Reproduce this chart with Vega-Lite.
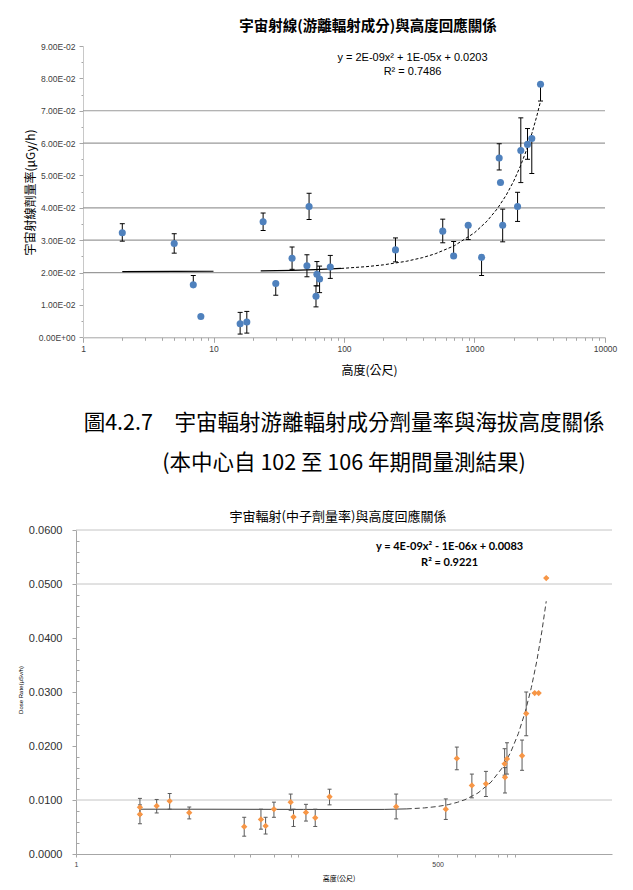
{
  "$schema": "https://vega.github.io/schema/vega-lite/v6.json",
  "background": "white",
  "padding": {"left": 17, "top": 18, "right": 10, "bottom": 5},
  "config": {
    "view": {"stroke": null},
    "axis": {"labelFlush": false, "labelOverlap": false, "labelBound": false}
  },
  "datasets": {
    "ionGrid": [{"g": 0.02}, {"g": 0.03}, {"g": 0.04}, {"g": 0.06}, {"g": 0.07}],
    "ion": [
      {"x": 2, "y": 0.0323, "lo": 0.0297, "hi": 0.0351},
      {"x": 5, "y": 0.029, "lo": 0.026, "hi": 0.032},
      {"x": 7, "y": 0.0162, "lo": 0.0162, "hi": 0.0191},
      {"x": 8, "y": 0.0064, "lo": 0.0064, "hi": 0.0064},
      {"x": 16, "y": 0.0042, "lo": 0.001, "hi": 0.0077},
      {"x": 18, "y": 0.0047, "lo": 0.0013, "hi": 0.008},
      {"x": 24, "y": 0.0357, "lo": 0.033, "hi": 0.0384},
      {"x": 30, "y": 0.0166, "lo": 0.013, "hi": 0.0166},
      {"x": 40, "y": 0.0244, "lo": 0.021, "hi": 0.0279},
      {"x": 52, "y": 0.0221, "lo": 0.0187, "hi": 0.0255},
      {"x": 54, "y": 0.0404, "lo": 0.0364, "hi": 0.0445},
      {"x": 61, "y": 0.0127, "lo": 0.0094, "hi": 0.0159},
      {"x": 62, "y": 0.0195, "lo": 0.0159, "hi": 0.0234},
      {"x": 65, "y": 0.018, "lo": 0.0138, "hi": 0.022},
      {"x": 78.5, "y": 0.0217, "lo": 0.0182, "hi": 0.0253},
      {"x": 248, "y": 0.027, "lo": 0.0233, "hi": 0.0307},
      {"x": 571, "y": 0.0328, "lo": 0.0292, "hi": 0.0365},
      {"x": 692, "y": 0.0251, "lo": 0.0251, "hi": 0.0296},
      {"x": 895, "y": 0.0346, "lo": 0.0302, "hi": 0.0346},
      {"x": 1133, "y": 0.0247, "lo": 0.0191, "hi": 0.0247},
      {"x": 1546, "y": 0.0554, "lo": 0.0517, "hi": 0.0598},
      {"x": 1582, "y": 0.0478, "lo": 0.0478, "hi": 0.0478},
      {"x": 1644, "y": 0.0346, "lo": 0.0295, "hi": 0.0396},
      {"x": 2138, "y": 0.0404, "lo": 0.0358, "hi": 0.0448},
      {"x": 2264, "y": 0.0577, "lo": 0.0478, "hi": 0.0678},
      {"x": 2548, "y": 0.0596, "lo": 0.055, "hi": 0.0645},
      {"x": 2748, "y": 0.0614, "lo": 0.0506, "hi": 0.0614},
      {"x": 3206, "y": 0.0782, "lo": 0.073, "hi": 0.0782}
    ],
    "ionFit": [
      {"x": 2, "y": 0.02032}, {"x": 5, "y": 0.02035}, {"x": 10, "y": 0.0204},
      {"x": 23, "y": 0.020531}, {"x": 40, "y": 0.020703}, {"x": 60, "y": 0.020907},
      {"x": 95, "y": 0.021268}, {"x": 150, "y": 0.021845}, {"x": 200, "y": 0.02238},
      {"x": 300, "y": 0.02348}, {"x": 400, "y": 0.02462}, {"x": 500, "y": 0.0258},
      {"x": 700, "y": 0.02828}, {"x": 1000, "y": 0.0323}, {"x": 1250, "y": 0.035925},
      {"x": 1500, "y": 0.0398}, {"x": 1750, "y": 0.043925}, {"x": 2000, "y": 0.0483},
      {"x": 2250, "y": 0.052925}, {"x": 2500, "y": 0.0578}, {"x": 2750, "y": 0.062925},
      {"x": 3000, "y": 0.0683}, {"x": 3206, "y": 0.072917}
    ],
    "ionEq": [
      {"x": 335, "y": 0.0863, "t": "y = 2E-09x² + 1E-05x + 0.0203"},
      {"x": 335, "y": 0.0821, "t": "R² = 0.7486"}
    ],
    "neuGrid": [{"g": 0.01}, {"g": 0.05}, {"g": 0.06}],
    "neu": [
      {"x": 3, "y": 0.00864, "lo": 0.0072, "hi": 0.0103},
      {"x": 3, "y": 0.00735, "lo": 0.0056, "hi": 0.0091},
      {"x": 4, "y": 0.0089, "lo": 0.0076, "hi": 0.0101},
      {"x": 5, "y": 0.0098, "lo": 0.0083, "hi": 0.0112},
      {"x": 7, "y": 0.00765, "lo": 0.0065, "hi": 0.0087},
      {"x": 18, "y": 0.00506, "lo": 0.0033, "hi": 0.0068},
      {"x": 24, "y": 0.0064, "lo": 0.0046, "hi": 0.0083},
      {"x": 26, "y": 0.0052, "lo": 0.0037, "hi": 0.0068},
      {"x": 30, "y": 0.0083, "lo": 0.0068, "hi": 0.0096},
      {"x": 40, "y": 0.0096, "lo": 0.0081, "hi": 0.0111},
      {"x": 42, "y": 0.00685, "lo": 0.0051, "hi": 0.0083},
      {"x": 52, "y": 0.0077, "lo": 0.0061, "hi": 0.0092},
      {"x": 61, "y": 0.0067, "lo": 0.0051, "hi": 0.0083},
      {"x": 78, "y": 0.0106, "lo": 0.0091, "hi": 0.012},
      {"x": 245, "y": 0.00877, "lo": 0.0065, "hi": 0.0111},
      {"x": 575, "y": 0.0083, "lo": 0.0064, "hi": 0.0102},
      {"x": 695, "y": 0.0177, "lo": 0.0156, "hi": 0.0198},
      {"x": 900, "y": 0.0127, "lo": 0.0104, "hi": 0.0148},
      {"x": 1146, "y": 0.013, "lo": 0.01065, "hi": 0.0153},
      {"x": 1580, "y": 0.0167, "lo": 0.0146, "hi": 0.0195},
      {"x": 1590, "y": 0.0142, "lo": 0.0113, "hi": 0.016},
      {"x": 1645, "y": 0.0176, "lo": 0.0148, "hi": 0.0206},
      {"x": 2132, "y": 0.0182, "lo": 0.0155, "hi": 0.0211},
      {"x": 2290, "y": 0.026, "lo": 0.0219, "hi": 0.03},
      {"x": 2649, "y": 0.0298, "lo": 0.0298, "hi": 0.0298},
      {"x": 2836, "y": 0.0298, "lo": 0.0298, "hi": 0.0298},
      {"x": 3230, "y": 0.0511, "lo": 0.0511, "hi": 0.0511}
    ],
    "neuFit": [
      {"x": 3, "y": 0.008297}, {"x": 10, "y": 0.00829}, {"x": 50, "y": 0.00826},
      {"x": 100, "y": 0.00824}, {"x": 200, "y": 0.00826}, {"x": 294, "y": 0.008352},
      {"x": 400, "y": 0.00854}, {"x": 500, "y": 0.0088}, {"x": 600, "y": 0.00914},
      {"x": 700, "y": 0.00956}, {"x": 800, "y": 0.01006}, {"x": 1000, "y": 0.0113},
      {"x": 1250, "y": 0.0133}, {"x": 1500, "y": 0.0158}, {"x": 1750, "y": 0.0188},
      {"x": 2000, "y": 0.0223}, {"x": 2250, "y": 0.0263}, {"x": 2500, "y": 0.0308},
      {"x": 2750, "y": 0.0358}, {"x": 3000, "y": 0.0413}, {"x": 3230, "y": 0.0468}
    ],
    "neuEq": [
      {"x": 614, "y": 0.05676, "t": "y = 4E-09x² - 1E-06x + 0.0083"},
      {"x": 614, "y": 0.05398, "t": "R² = 0.9221"}
    ],
    "caption": [
      {"text": "圖4.2.7　宇宙輻射游離輻射成分劑量率與海拔高度關係\n(本中心自 102 至 106 年期間量測結果)"}
    ]
  },
  "vconcat": [
    {
      "width": 522,
      "height": 291.3,
      "title": {
        "text": "宇宙射線(游離輻射成分)與高度回應關係",
        "font": "Noto Sans CJK TC", "fontSize": 14.5, "fontWeight": "bold", "color": "#000",
        "anchor": "middle", "frame": "group", "dx": 24, "baseline": "bottom", "offset": -6
      },
      "layer": [
        {
          "data": {"name": "ionGrid"},
          "mark": {"type": "rule", "color": "#9a9a9a", "strokeWidth": 1.2},
          "encoding": {
            "y": {
              "field": "g", "type": "quantitative",
              "scale": {"domain": [0, 0.09], "nice": false, "zero": false},
              "axis": {
                "values": [0,0.005,0.01,0.015,0.02,0.025,0.03,0.035,0.04,0.045,0.05,0.055,0.06,0.065,0.07,0.075,0.08,0.085,0.09],
                "tickCount": 1000,
                "labelExpr": "abs(datum.value*100 - round(datum.value*100)) < 1e-6 ? replace(replace(format(datum.value, '.2e'), 'e-', 'E-0'), 'e+', 'E+0') : ''",
                "tickSize": {"condition": {"test": "abs(datum.value*100 - round(datum.value*100)) < 1e-6", "value": 4}, "value": 2},
                "grid": false, "labelOverlap": false,
                "domainColor": "#c8c8c8", "tickColor": "#a6a6a6",
                "labelFont": "Liberation Sans", "labelFontSize": 8.5, "labelColor": "#404040", "labelPadding": 4,
                "title": "宇宙射線劑量率(μGy/h)", "titleFont": "Noto Sans CJK TC", "titleFontSize": 12, "titleFontWeight": "normal",
                "titleColor": "#000", "titleX": -52.3, "titleY": 146, "titleAngle": 270, "titleBaseline": "middle", "titleAlign": "center"
              }
            }
          }
        },
        {
          "data": {"name": "ionFit"},
          "transform": [{"filter": "datum.x <= 10"}],
          "mark": {"type": "line", "color": "#000", "strokeWidth": 1.2},
          "encoding": {
            "x": {
              "field": "x", "type": "quantitative",
              "scale": {"type": "log", "domain": [1, 10000], "nice": false},
              "axis": {
                "values": [1,2,3,4,5,6,7,8,9,10,20,30,40,50,60,70,80,90,100,200,300,400,500,600,700,800,900,1000,2000,3000,4000,5000,6000,7000,8000,9000,10000],
                "tickCount": 1000,
                "labelExpr": "indexof([1,10,100,1000,10000], datum.value) >= 0 ? format(datum.value, 'd') : ''",
                "tickSize": {"condition": {"test": "indexof([1,10,100,1000,10000], datum.value) >= 0", "value": 5}, "value": 3},
                "grid": false, "labelOverlap": false,
                "domainColor": "#a6a6a6", "tickColor": "#a6a6a6",
                "labelFont": "Liberation Sans", "labelFontSize": 8.5, "labelColor": "#404040", "labelPadding": 2,
                "title": "高度(公尺)", "titleFont": "Noto Sans CJK TC", "titleFontSize": 12, "titleFontWeight": "normal",
                "titleColor": "#000", "titleX": 286, "titleY": 32.7, "titleBaseline": "middle", "titleAlign": "center"
              }
            },
            "y": {"field": "y", "type": "quantitative"}
          }
        },
        {
          "data": {"name": "ionFit"},
          "transform": [{"filter": "datum.x >= 23 && datum.x <= 95"}],
          "mark": {"type": "line", "color": "#000", "strokeWidth": 1.2},
          "encoding": {"x": {"field": "x", "type": "quantitative"}, "y": {"field": "y", "type": "quantitative"}}
        },
        {
          "data": {"name": "ionFit"},
          "transform": [{"filter": "datum.x >= 95"}],
          "mark": {"type": "line", "color": "#000", "strokeWidth": 1, "strokeDash": [3, 2]},
          "encoding": {"x": {"field": "x", "type": "quantitative"}, "y": {"field": "y", "type": "quantitative"}}
        },
        {
          "data": {"name": "ion"},
          "mark": {"type": "rule", "color": "#000", "strokeWidth": 1},
          "encoding": {
            "x": {"field": "x", "type": "quantitative"},
            "y": {"field": "lo", "type": "quantitative"},
            "y2": {"field": "hi"}
          }
        },
        {
          "data": {"name": "ion"},
          "mark": {"type": "tick", "orient": "horizontal", "size": 5, "thickness": 1, "color": "#000", "opacity": 1},
          "encoding": {"x": {"field": "x", "type": "quantitative"}, "y": {"field": "lo", "type": "quantitative"}}
        },
        {
          "data": {"name": "ion"},
          "mark": {"type": "tick", "orient": "horizontal", "size": 5, "thickness": 1, "color": "#000", "opacity": 1},
          "encoding": {"x": {"field": "x", "type": "quantitative"}, "y": {"field": "hi", "type": "quantitative"}}
        },
        {
          "data": {"name": "ion"},
          "mark": {"type": "point", "shape": "circle", "filled": true, "size": 50, "color": "#4F81BD", "opacity": 1},
          "encoding": {"x": {"field": "x", "type": "quantitative"}, "y": {"field": "y", "type": "quantitative"}}
        },
        {
          "data": {"name": "ionEq"},
          "mark": {"type": "text", "font": "Liberation Sans", "fontSize": 11, "color": "#000", "align": "center", "baseline": "middle"},
          "encoding": {
            "x": {"field": "x", "type": "quantitative"},
            "y": {"field": "y", "type": "quantitative"},
            "text": {"field": "t"}
          }
        }
      ]
    },
    {
      "width": 536,
      "height": 151.5,
      "data": {"name": "caption"},
      "mark": {
        "type": "text", "font": "Noto Sans CJK TC", "fontSize": 21.5, "color": "#000",
        "lineBreak": "\n", "lineHeight": 40.3, "align": "center", "baseline": "middle", "dy": -10
      },
      "encoding": {"text": {"field": "text"}}
    },
    {
      "width": 536,
      "height": 324,
      "title": {
        "text": "宇宙輻射(中子劑量率)與高度回應關係",
        "font": "Noto Sans CJK TC", "fontSize": 13, "fontWeight": "normal", "color": "#000",
        "anchor": "middle", "frame": "group", "dx": -6, "baseline": "bottom", "offset": -13
      },
      "layer": [
        {
          "data": {"name": "neuGrid"},
          "mark": {"type": "rule", "color": "#c4c4c4", "strokeWidth": 1},
          "encoding": {
            "y": {
              "field": "g", "type": "quantitative",
              "scale": {"domain": [0, 0.06], "nice": false, "zero": false},
              "axis": {
                "values": [0,0.002,0.004,0.006,0.008,0.01,0.012,0.014,0.016,0.018,0.02,0.022,0.024,0.026,0.028,0.03,0.032,0.034,0.036,0.038,0.04,0.042,0.044,0.046,0.048,0.05,0.052,0.054,0.056,0.058,0.06],
                "tickCount": 1000,
                "labelExpr": "abs(datum.value*100 - round(datum.value*100)) < 1e-6 ? format(datum.value, '.4f') : ''",
                "tickSize": {"condition": {"test": "abs(datum.value*100 - round(datum.value*100)) < 1e-6", "value": 4}, "value": -3},
                "grid": false, "labelOverlap": false,
                "domainColor": "#a6a6a6", "tickColor": "#a6a6a6",
                "labelFont": "Liberation Sans", "labelFontSize": 11, "labelColor": "#303030", "labelPadding": 10,
                "title": "Dose Rate(μSv/h)", "titleFont": "Liberation Sans", "titleFontSize": 6, "titleFontWeight": "normal",
                "titleColor": "#000", "titleX": -55.3, "titleY": 159.5, "titleAngle": 270, "titleBaseline": "middle", "titleAlign": "center"
              }
            }
          }
        },
        {
          "data": {"name": "neuFit"},
          "transform": [{"filter": "datum.x <= 294"}],
          "mark": {"type": "line", "color": "#404040", "strokeWidth": 1},
          "encoding": {
            "x": {
              "field": "x", "type": "quantitative",
              "scale": {"type": "log", "domain": [1, 10000], "nice": false},
              "axis": {
                "values": [1,5,15,20,30,40,45,250,500,700,950,1400,1650,1900],
                "tickCount": 1000,
                "labelExpr": "datum.value == 1 || datum.value == 500 ? format(datum.value, 'd') : ''",
                "tickSize": 3, "grid": false, "labelOverlap": false,
                "domainColor": "#a6a6a6", "tickColor": "#a6a6a6",
                "labelFont": "Liberation Sans", "labelFontSize": 7, "labelColor": "#404040", "labelPadding": 3.5,
                "title": "高度(公尺)", "titleFont": "Noto Sans CJK TC", "titleFontSize": 7, "titleFontWeight": "normal",
                "titleColor": "#000", "titleX": 262.5, "titleY": 24.5, "titleBaseline": "middle", "titleAlign": "center"
              }
            },
            "y": {"field": "y", "type": "quantitative"}
          }
        },
        {
          "data": {"name": "neuFit"},
          "transform": [{"filter": "datum.x >= 294"}],
          "mark": {"type": "line", "color": "#404040", "strokeWidth": 1, "strokeDash": [5, 3]},
          "encoding": {"x": {"field": "x", "type": "quantitative"}, "y": {"field": "y", "type": "quantitative"}}
        },
        {
          "data": {"name": "neu"},
          "mark": {"type": "rule", "color": "#595959", "strokeWidth": 1},
          "encoding": {
            "x": {"field": "x", "type": "quantitative"},
            "y": {"field": "lo", "type": "quantitative"},
            "y2": {"field": "hi"}
          }
        },
        {
          "data": {"name": "neu"},
          "mark": {"type": "tick", "orient": "horizontal", "size": 4, "thickness": 1, "color": "#595959", "opacity": 1},
          "encoding": {"x": {"field": "x", "type": "quantitative"}, "y": {"field": "lo", "type": "quantitative"}}
        },
        {
          "data": {"name": "neu"},
          "mark": {"type": "tick", "orient": "horizontal", "size": 4, "thickness": 1, "color": "#595959", "opacity": 1},
          "encoding": {"x": {"field": "x", "type": "quantitative"}, "y": {"field": "hi", "type": "quantitative"}}
        },
        {
          "data": {"name": "neu"},
          "mark": {"type": "point", "shape": "diamond", "filled": true, "size": 40, "color": "#F79646", "opacity": 1},
          "encoding": {"x": {"field": "x", "type": "quantitative"}, "y": {"field": "y", "type": "quantitative"}}
        },
        {
          "data": {"name": "neuEq"},
          "mark": {"type": "text", "font": "Lato", "fontSize": 11, "fontWeight": "bold", "color": "#000", "align": "center", "baseline": "middle"},
          "encoding": {
            "x": {"field": "x", "type": "quantitative"},
            "y": {"field": "y", "type": "quantitative"},
            "text": {"field": "t"}
          }
        }
      ]
    }
  ],
  "bounds": "flush",
  "center": true,
  "spacing": 20
}
